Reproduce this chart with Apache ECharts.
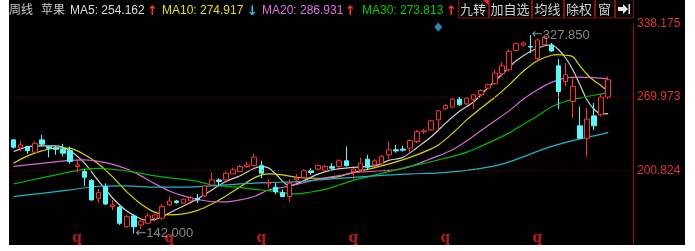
<!DOCTYPE html>
<html>
<head>
<meta charset="utf-8">
<script src="https://cdn.jsdelivr.net/npm/echarts@6/dist/echarts.min.js"></script>
<style>
  html, body { margin: 0; padding: 0; background: #fff; }
  #chart { position: absolute; left: 9px; top: 0; width: 676px; height: 245px; background: #000; }
</style>
</head>
<body>
<div id="chart"></div>
<script>
// weekly candles: [open, close, low, high]
var candles = [
  [229.6, 222.8, 221.5, 230.5], [222.1, 225.0, 218.7, 229.0], [223.4, 219.6, 216.5, 224.0], [218.1, 226.5, 217.5, 228.1],
  [229.6, 225.6, 223.4, 234.3], [223.1, 221.8, 213.4, 223.4], [222.1, 220.8, 215.6, 224.0], [220.9, 217.2, 214.0, 225.9],
  [219.6, 209.3, 207.1, 223.4], [204.6, 206.2, 199.0, 210.2], [199.9, 194.6, 186.5, 202.2], [191.5, 173.4, 172.7, 192.9],
  [175.0, 180.2, 170.8, 183.7], [185.8, 169.6, 168.7, 189.0], [167.1, 168.7, 163.9, 173.4], [166.5, 151.5, 149.9, 167.7],
  [148.3, 157.7, 147.1, 159.3], [158.4, 148.3, 142.0, 160.2], [149.9, 153.6, 146.2, 156.2], [151.5, 158.4, 150.6, 160.9],
  [156.2, 159.3, 153.0, 159.8], [156.2, 167.1, 154.6, 169.6], [168.7, 172.4, 167.7, 176.5], [172.4, 170.8, 170.1, 173.4],
  [170.3, 174.0, 169.6, 174.6], [172.4, 175.2, 171.5, 177.1], [174.8, 173.4, 170.5, 179.0], [177.1, 186.5, 176.2, 187.4],
  [187.4, 192.1, 187.0, 199.0], [192.1, 190.7, 186.5, 193.7], [192.1, 198.4, 189.3, 200.0], [197.7, 201.5, 197.5, 203.6],
  [199.9, 204.6, 199.6, 206.2], [204.6, 206.2, 203.1, 209.3], [205.5, 213.4, 204.6, 216.5], [205.5, 198.4, 193.7, 210.0],
  [188.4, 189.6, 184.3, 193.1], [185.3, 181.1, 178.7, 189.0], [180.2, 176.5, 175.9, 183.4], [176.5, 189.0, 171.8, 192.8],
  [192.1, 193.7, 189.0, 197.7], [194.6, 200.8, 193.7, 202.2], [200.6, 199.0, 196.8, 203.1], [202.2, 205.5, 201.5, 206.2],
  [200.8, 204.6, 200.0, 206.2], [204.6, 203.1, 201.5, 207.8], [204.6, 210.0, 203.7, 211.5], [210.0, 205.5, 204.6, 223.4],
  [199.9, 202.2, 192.1, 203.1], [201.5, 207.8, 199.9, 213.1], [211.5, 204.0, 201.5, 215.6], [206.2, 210.0, 204.6, 211.5],
  [207.1, 214.0, 206.2, 215.6], [215.6, 220.3, 211.5, 228.1], [220.3, 219.3, 217.7, 225.0], [220.9, 220.0, 218.7, 224.1],
  [221.9, 229.0, 216.5, 230.3], [228.1, 237.4, 226.5, 239.0], [237.1, 238.1, 235.3, 240.0], [239.0, 247.5, 238.1, 248.4],
  [248.4, 256.8, 238.4, 257.8], [258.7, 261.8, 257.8, 263.1], [260.3, 267.8, 259.7, 268.7], [267.8, 262.5, 261.5, 269.7],
  [263.4, 268.7, 262.5, 270.0], [267.2, 271.8, 258.4, 272.8], [271.8, 275.9, 270.9, 277.2], [278.1, 281.2, 277.5, 282.2],
  [282.2, 292.2, 281.2, 295.3], [291.5, 299.0, 289.0, 302.1], [295.3, 312.5, 293.7, 314.7], [313.4, 319.7, 312.5, 320.9],
  [318.5, 320.4, 317.0, 321.5], [317.0, 316.6, 310.9, 327.85], [306.0, 323.2, 302.6, 324.8], [319.0, 326.1, 317.7, 327.6],
  [318.5, 312.9, 312.0, 320.4], [299.0, 275.0, 258.4, 305.3], [284.3, 290.6, 279.6, 301.6], [265.6, 279.6, 250.0, 289.0],
  [242.8, 231.2, 230.3, 260.9], [231.2, 249.1, 214.0, 259.4], [252.1, 242.8, 239.0, 264.1], [253.1, 269.7, 251.5, 272.8],
  [269.7, 285.9, 267.8, 289.0]
];

// moving averages: [week index, value]
var ma5 = [[0,218.7],[2,223.1],[4,224.0],[6,224.0],[8,219.3],[10,208.1],[12,191.2],[14,175.2],[16,163.0],[18,155.5],
  [19,154.6],[20,155.1],[22,161.2],[24,167.7],[26,174.3],[28,182.7],[30,190.6],[32,196.0],[34,203.1],[35,204.6],
  [36,203.4],[37,197.9],[39,186.7],[41,191.4],[43,197.5],[45,201.5],[48,203.9],[51,205.2],[53,210.4],[55,213.2],
  [57,222.5],[59,232.5],[61,245.1],[63,256.4],[65,265.3],[67,278.4],[69,291.1],[71,303.7],[73,312.5],[75,317.8],
  [76,318.5],[77,314.1],[78,306.1],[79,295.3],[80,281.2],[81,267.2],[82,258.3],[83,254.0],[84,254.162]];
var ma10 = [[0,207.8],[2,214.6],[4,219.3],[6,222.1],[8,221.6],[10,216.0],[12,207.1],[14,195.0],[16,180.9],[18,169.6],
  [20,161.7],[22,159.3],[24,160.3],[26,163.6],[28,169.6],[30,177.1],[32,185.6],[34,194.0],[36,197.7],[38,196.8],
  [40,194.6],[42,193.7],[44,193.7],[46,195.4],[48,199.2],[50,202.0],[52,205.3],[54,209.0],[56,213.2],[58,218.4],
  [60,224.9],[62,235.7],[64,248.4],[66,259.2],[68,269.5],[70,281.2],[72,293.9],[74,303.7],[76,308.9],[77,309.4],
  [78,308.9],[79,307.5],[80,299.0],[81,291.1],[82,285.0],[83,280.3],[84,274.917]];
var ma20 = [[0,204.8],[4,207.6],[8,210.4],[10,210.9],[12,209.5],[14,206.7],[16,202.4],[18,195.9],[20,188.4],[22,181.8],
  [24,177.1],[26,173.8],[28,171.9],[30,171.5],[32,173.4],[34,176.6],[36,182.7],[38,185.0],[40,187.9],[42,191.2],
  [44,194.0],[46,196.1],[48,198.7],[50,199.9],[52,200.7],[54,201.5],[56,204.6],[58,209.5],[60,214.6],[62,220.3],
  [64,228.7],[66,238.1],[68,247.5],[70,256.8],[72,267.6],[74,276.5],[76,283.5],[78,287.7],[80,288.4],[82,288.0],
  [84,286.931]];
var ma30 = [[0,188.4],[4,194.0],[8,199.6],[10,202.0],[12,202.9],[14,202.0],[16,200.6],[18,198.3],[20,195.9],[22,194.0],
  [24,192.6],[26,190.8],[28,187.4],[30,186.0],[32,185.1],[34,183.2],[36,182.1],[38,180.2],[40,179.0],[42,180.8],
  [44,183.2],[46,187.4],[48,191.7],[50,195.0],[52,198.3],[54,201.5],[56,204.8],[58,207.6],[60,210.9],[62,214.2],
  [64,217.9],[66,223.5],[68,229.6],[70,236.2],[72,244.2],[74,252.1],[76,260.6],[78,265.8],[80,268.8],[82,271.4],
  [84,273.813]];
var ma60 = [[0,176.5],[4,179.6],[8,182.7],[12,186.2],[16,186.5],[20,185.3],[24,185.3],[28,186.5],[32,188.4],[36,189.6],
  [40,190.5],[44,192.6],[48,194.5],[52,196.4],[56,197.8],[60,198.7],[64,201.0],[68,205.3],[70,209.0],[72,213.7],
  [74,218.8],[76,223.5],[78,227.3],[80,230.6],[82,233.4],[84,236.7]];

var priceTicks = [200.824, 269.973, 338.175];
var quarterMarks = [9, 22, 35, 48, 61, 74];
var highNote = [73, 327.85];
var lowNote = [17, 142.0];
var signalMark = [60, 335.4];

var weeks = candles.map(function (c, i) { return 'W' + (i + 1); });
var categories = weeks.concat(['', '', '']);

var UP = '#ff3232', DOWN = '#54fcfc';

function maSeries(name, data, color) {
  return {
    name: name, type: 'line', data: data, smooth: 0.3, showSymbol: false, silent: true,
    lineStyle: { color: color, width: 1.2 }, z: 3
  };
}

var chart = echarts.init(document.getElementById('chart'));

var headerTexts = [
  ['周线', 0, '#c8c8c8'], ['苹果', 32, '#c8c8c8'],
  ['MA5: 254.162', 61, '#dcdcdc'], ['↑', 138, UP],
  ['MA10: 274.917', 153, '#e0e000'], ['↓', 238, '#30c8e8'],
  ['MA20: 286.931', 253, '#e070e0'], ['↑', 336, UP],
  ['MA30: 273.813', 353, '#00d000'], ['↑', 437, UP]
];
var buttons = [['九转', 449, 479], ['加自选', 480, 522], ['均线', 523, 554], ['除权', 555, 585], ['窗', 586, 605], ['', 606, 624]];

var graphics = [];
headerTexts.forEach(function (t) {
  var isArrow = t[0] === '↑' || t[0] === '↓';
  graphics.push({
    type: 'text', left: t[1], top: 5,
    style: { text: t[0], fill: t[2], font: (isArrow ? 'bold 13px "DejaVu Sans"' : '12px "Liberation Sans", "Noto Sans CJK SC"') }
  });
});
buttons.forEach(function (b) {
  graphics.push({
    type: 'rect', shape: { x: b[1] + 0.5, y: -1, width: b[2] - b[1], height: 19 },
    style: { fill: '#000', stroke: '#8a1010', lineWidth: 1 }
  });
  if (b[0]) {
    graphics.push({
      type: 'text', x: (b[1] + b[2]) / 2, y: 9,
      style: { text: b[0], fill: '#d0d0d0', font: '13px "Noto Sans CJK SC"', align: 'center', verticalAlign: 'middle' }
    });
  }
});
graphics.push({ type: 'polygon', shape: { points: [[474, 0], [479.5, 0], [479.5, 5]] }, style: { fill: '#ff2020' } });
graphics.push({ type: 'polygon', shape: { points: [[609, 7], [614, 7], [614, 4], [619, 9], [614, 14], [614, 11], [609, 11]] }, style: { fill: '#e8e8e8' } });
graphics.push({ type: 'rect', shape: { x: 619.5, y: 4, width: 1.5, height: 10 }, style: { fill: '#e8e8e8' } });

var option = {
  animation: false,
  backgroundColor: '#000',
  grid: { left: 1, right: 52, top: 24, bottom: 0 },
  xAxis: {
    type: 'category', data: categories, boundaryGap: true,
    axisLine: { show: false }, axisTick: { show: false }, axisLabel: { show: false }, splitLine: { show: false }
  },
  yAxis: {
    type: 'value', position: 'right', min: 131.15, max: 338.175, scale: true,
    axisLine: { show: true, lineStyle: { color: '#9a1010', width: 1 } },
    axisTick: { show: false },
    splitLine: { show: false },
    axisLabel: {
      customValues: priceTicks, showMinLabel: true, showMaxLabel: true,
      color: '#e03535', fontSize: 12, fontFamily: 'Liberation Sans', margin: 4,
      formatter: function (v) { return v.toFixed(3); }
    }
  },
  graphic: graphics,
  series: [
    {
      type: 'candlestick', data: candles.map(function (c) { return [c[0], c[1], c[2], c[3]]; }),
      barWidth: 5, z: 4,
      itemStyle: { color: '#000', color0: DOWN, borderColor: UP, borderColor0: DOWN, borderWidth: 1 },
      markLine: {
        silent: true, symbol: 'none', label: { show: false },
        lineStyle: { color: '#7a1010', type: [1, 3], width: 1 },
        data: priceTicks.map(function (v) { return { yAxis: v }; })
      }
    },
    maSeries('MA5', ma5, '#d0d0d0'),
    maSeries('MA10', ma10, '#d4d400'),
    maSeries('MA20', ma20, '#d868d8'),
    maSeries('MA30', ma30, '#00b800'),
    maSeries('MA60', ma60, '#20b4c8'),
    {
      type: 'scatter', data: [signalMark], symbol: 'diamond', symbolSize: [8, 9], z: 5,
      itemStyle: { color: '#3aa8e0' }
    },
    {
      type: 'scatter', data: quarterMarks.map(function (i) { return [i, 137.5]; }), symbolSize: 1, z: 5,
      itemStyle: { color: 'transparent' },
      label: { show: true, position: 'inside', formatter: 'q', color: '#e02020', fontSize: 14, fontWeight: 'bold', fontFamily: 'DejaVu Serif' }
    },
    {
      type: 'scatter', data: [highNote, lowNote], symbolSize: 1, z: 6,
      itemStyle: { color: 'transparent' },
      label: {
        show: true, position: 'right', distance: 1,
        formatter: function (p) { return '{a|←}{b|' + p.value[1].toFixed(3) + '}'; },
        rich: {
          a: { color: '#b0b0b0', fontSize: 13, fontFamily: 'DejaVu Sans' },
          b: { color: '#a8a8a8', fontSize: 13, fontFamily: 'Liberation Sans' }
        }
      }
    }
  ]
};

chart.setOption(option);
</script>
</body>
</html>
